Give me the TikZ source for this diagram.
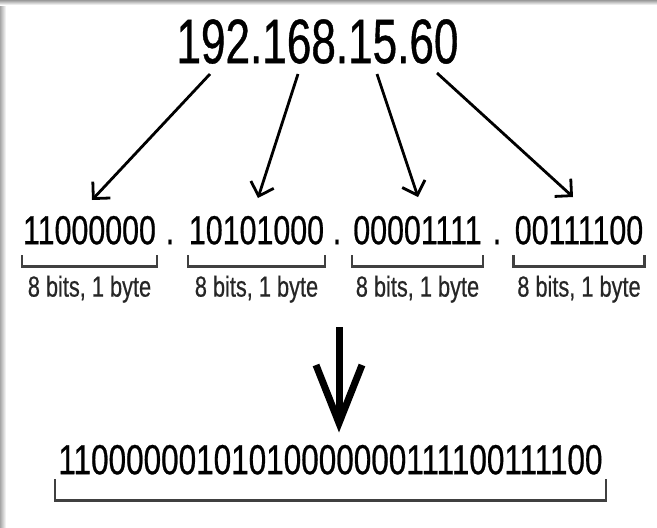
\documentclass[tikz,border=0pt]{standalone}
\usepackage{fontspec}
\setmainfont{Liberation Sans}
\newfontfamily\ipfont[FakeStretch=0.70,FakeBold=0.6]{Liberation Sans}
\newfontfamily\bitfont[FakeStretch=0.75,FakeBold=0.6]{Liberation Sans}
\usetikzlibrary{arrows.meta,positioning}

\begin{document}
\begin{tikzpicture}[x=1pt,y=-1pt,
    ipaddr/.style={inner sep=0pt,font=\ipfont\fontsize{63}{63}\selectfont,text height=45pt,text depth=0pt},
    octet/.style={inner sep=0pt,font=\bitfont\fontsize{40.5}{40.5}\selectfont,text height=29pt,text depth=0pt},
    bytelabel/.style={inner sep=0pt,font=\bitfont\fontsize{29}{29}\selectfont,text height=21pt,text depth=0pt,text=black!85},
    split/.style={line width=2.8pt,-{Straight Barb[length=12pt,width=24pt]}},
    bracket/.style={line width=2.3pt,draw=black!75},
    merge/.style={line width=7pt,line join=miter}]
    \useasboundingbox (0,0) rectangle (657,528);
    % frame shadow
    \fill[left color=black!35,right color=white] (0,0) rectangle (6,528);
    \fill[top color=black!40,bottom color=white] (0,0) rectangle (657,5);

    \node[ipaddr,anchor=north] (ip) at (317.5,18) {192.168.15.60};

    \node[octet,anchor=north] (b1) at (89.5,215) {11000000};
    \node[octet,anchor=north] (d1) at (170,215) {.};
    \node[octet,anchor=north] (b2) at (256.5,215) {10101000};
    \node[octet,anchor=north] (d2) at (337,215) {.};
    \node[octet,anchor=north] (b3) at (417.5,215) {00001111};
    \node[octet,anchor=north] (d3) at (497,215) {.};
    \node[octet,anchor=north] (b4) at (579,215) {00111100};

    \node[bytelabel,below=31pt of b1] (l1) {8 bits, 1 byte};
    \node[bytelabel,below=31pt of b2] (l2) {8 bits, 1 byte};
    \node[bytelabel,below=31pt of b3] (l3) {8 bits, 1 byte};
    \node[bytelabel,below=31pt of b4] (l4) {8 bits, 1 byte};

    \node[octet,font=\bitfont\fontsize{42}{42}\selectfont,anchor=north] (full) at (330.5,445) {11000000101010000000111100111100};

    % arrows from the dotted address
    \coordinate (from1) at (210,74);
    \coordinate (from2) at (298,74);
    \coordinate (from3) at (377,74);
    \coordinate (from4) at (437,73);
    \coordinate (to1) at (92,200);
    \coordinate (to2) at (258,198);
    \coordinate (to3) at (418,197);
    \coordinate (to4) at (573,197);
    \draw[split] (from1) -- (to1);
    \draw[split] (from2) -- (to2);
    \draw[split] (from3) -- (to3);
    \draw[split] (from4) -- (to4);

    % brackets under each byte
    \draw[bracket] ([xshift=-1pt,yshift=-11pt]b1.south west) -- ++(0,11) -| ([xshift=1pt,yshift=-11pt]b1.south east);
    \draw[bracket] ([xshift=-1pt,yshift=-11pt]b2.south west) -- ++(0,11) -| ([xshift=1pt,yshift=-11pt]b2.south east);
    \draw[bracket] ([xshift=-1pt,yshift=-11pt]b3.south west) -- ++(0,11) -| ([xshift=1pt,yshift=-11pt]b3.south east);
    \draw[bracket] ([xshift=-1pt,yshift=-11pt]b4.south west) -- ++(0,11) -| ([xshift=1pt,yshift=-11pt]b4.south east);
    \draw[bracket] ([xshift=-3pt,yshift=-5pt]full.south west) -- ++(0,21) -| ([xshift=3pt,yshift=-5pt]full.south east);

    % big arrow
    \coordinate (mergetop) at (339,327);
    \coordinate (mergetip) at (339,423);
    \draw[merge] (mergetop) -- (mergetip);
    \draw[merge] ([shift={(-23,-58)}]mergetip) -- (mergetip) -- ++(23,-58);
\end{tikzpicture}
\end{document}
